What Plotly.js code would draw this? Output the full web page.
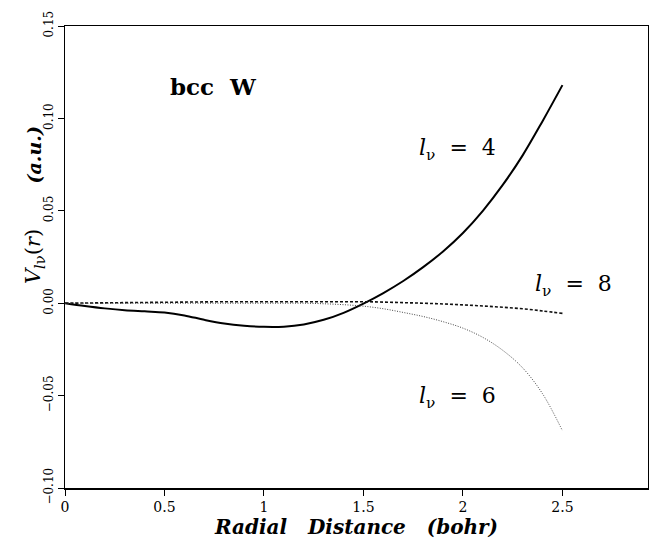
<!DOCTYPE html>
<html>
<head>
<meta charset="utf-8">
<script src="https://cdn.plot.ly/plotly-3.0.1.min.js"></script>
<style>html,body{margin:0;padding:0;background:#fff;}#chart{width:649px;height:546px;}</style>
</head>
<body>
<div id="chart"></div>
<script>
const r = [0, 0.1, 0.2, 0.3, 0.4, 0.5, 0.6, 0.7, 0.8, 0.9, 1.0, 1.1, 1.2, 1.3, 1.4, 1.5, 1.6, 1.7, 1.8, 1.9, 2.0, 2.1, 2.2, 2.3, 2.4, 2.5];
const v4 = [0, -0.0015, -0.0028, -0.0038, -0.0044, -0.0050, -0.0066, -0.0090, -0.0110, -0.0122, -0.0128, -0.0127, -0.0115, -0.0090, -0.0052, -0.0002, 0.0055, 0.0120, 0.0195, 0.0280, 0.0380, 0.0500, 0.0640, 0.0800, 0.0985, 0.1180];
const v6 = [0, 0, 0, 0, 0, 0, 0, 0, 0, 0, 0, 0, 0, -0.0003, -0.0008, -0.0016, -0.0030, -0.0050, -0.0072, -0.0100, -0.0135, -0.0185, -0.0255, -0.0350, -0.0490, -0.0690];
const v8 = [0, 0.0001, 0.0002, 0.0003, 0.0004, 0.0005, 0.0006, 0.0007, 0.0008, 0.0008, 0.0008, 0.0008, 0.0008, 0.0008, 0.0008, 0.0008, 0.0006, 0.0003, 0.0, -0.0004, -0.0009, -0.0015, -0.0022, -0.0030, -0.0042, -0.0055];
const labels = ["<i>l</i><sub>ν</sub>&nbsp; = &nbsp;4", "<i>l</i><sub>ν</sub>&nbsp; = &nbsp;8", "<i>l</i><sub>ν</sub>&nbsp; = &nbsp;6"];
const labelPos = [[1.77, 0.083], [2.35, 0.0097], [1.77, -0.051]];
const yTicks = [-0.10, -0.05, 0.00, 0.05, 0.10, 0.15];
const xTicks = [0, 0.5, 1, 1.5, 2, 2.5];
const xTickText = ["0", "0.5", "1", "1.5", "2", "2.5"];

const serif = "'DejaVu Serif', 'Liberation Serif', serif";
const traces = [
  {x: r, y: v4, mode: "lines", line: {color: "#000", width: 2, shape: "spline", smoothing: 1}, showlegend: false},
  {x: r, y: v8, mode: "lines", line: {color: "#111", width: 1.6, dash: "3px,2px", shape: "spline"}, showlegend: false},
  {x: r, y: v6, mode: "lines", line: {color: "#444", width: 1, dash: "1px,1.5px", shape: "spline"}, showlegend: false}
];
const annotations = labels.map((t, i) => ({
  x: labelPos[i][0], y: labelPos[i][1], xref: "x", yref: "y", text: t, showarrow: false,
  xanchor: "left", font: {family: serif, size: 22, color: "#000"}
}));
annotations.push({x: 0.52, y: 0.117, xref: "x", yref: "y", text: "<b>bcc&nbsp; W</b>", showarrow: false,
  xanchor: "left", font: {family: serif, size: 23, color: "#000"}});
annotations.push({x: -0.053, y: 0.025, xref: "paper", yref: "y", textangle: -90, showarrow: false,
  xanchor: "center", yanchor: "middle",
  text: "<i>V</i><sub><i>l</i>ν</sub>(<i>r</i>)",
  font: {family: serif, size: 21, color: "#000"}});
annotations.push({x: -0.053, y: 0.080, xref: "paper", yref: "y", textangle: -90, showarrow: false,
  xanchor: "center", yanchor: "middle",
  text: "<b><i>(a.u.)</i></b>",
  font: {family: serif, size: 19, color: "#000"}});

const layout = {
  width: 649, height: 546,
  margin: {l: 65, r: 1, t: 26, b: 58},
  paper_bgcolor: "#fff", plot_bgcolor: "#fff",
  xaxis: {
    range: [0, 2.93], tickvals: xTicks, ticktext: xTickText,
    showgrid: false, zeroline: false, showline: true, mirror: true, linecolor: "#000", linewidth: 1.5,
    ticks: "outside", ticklen: 6, tickcolor: "#000",
    tickfont: {family: serif, size: 14, color: "#000"},
    title: {text: "<b><i>Radial&nbsp;&nbsp; Distance&nbsp;&nbsp; (bohr)</i></b>", font: {family: serif, size: 20, color: "#000"}, standoff: 4}
  },
  yaxis: {
    range: [-0.10, 0.15], tickvals: yTicks, tickformat: ".2f", tickangle: -90,
    showgrid: false, zeroline: false, showline: true, mirror: true, linecolor: "#000", linewidth: 1.5,
    ticks: "outside", ticklen: 6, tickcolor: "#000",
    tickfont: {family: serif, size: 12, color: "#000"}
  },
  annotations: annotations
};
Plotly.newPlot("chart", traces, layout, {staticPlot: true, displayModeBar: false});
</script>
</body>
</html>
